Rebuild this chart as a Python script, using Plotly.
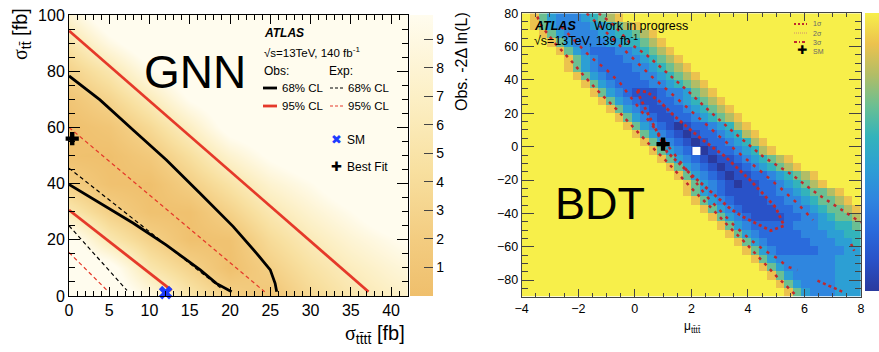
import plotly.graph_objects as go

W, H = 879, 352
def px(x): return x / W
def py(y): return 1 - y / H

FONT = "Liberation Sans, Arial, sans-serif"

# ---------------- GNN panel data ----------------
gnn_x = [0, 5, 10, 15, 20, 25, 30, 35, 40, 45]
gnn_y = [0, 10, 20, 30, 40, 50, 60, 70, 80, 90, 100]
gnn_z = [
    [12, 12, 8.9, 5.2, 2.6, 1.0, 3.5, 5.4, 6.8, 8.0],
    [12, 11, 5.4, 2.8, 0.2, 2.4, 4.7, 6.5, 8.0, 9.3],
    [11, 5.7, 2.7, 0.3, 0.5, 3.8, 6.1, 8.0, 9.5, 11],
    [5.7, 2.5, 0.4, 0.3, 2.7, 5.6, 7.8, 9.7, 12, 12],
    [2.2, 0.4, 0.1, 2.3, 4.9, 7.7, 9.6, 12, 12, 12],
    [0.3, 0.1, 1.5, 4.3, 7.6, 10.2, 12, 12, 12, 12],
    [0.1, 1.0, 3.6, 6.9, 10.9, 12, 12, 12, 12, 12],
    [0.9, 3.0, 6.2, 10, 12, 12, 12, 12, 12, 12],
    [2.7, 5.4, 9.4, 12, 12, 12, 12, 12, 12, 12],
    [5.0, 9.0, 12, 12, 12, 12, 12, 12, 12, 12],
    [7.9, 12, 12, 12, 12, 12, 12, 12, 12, 12],
]
gnn_zmax = 9.85
gnn_cbar_ticks = [1, 2, 3, 4, 5, 6, 7, 8, 9]
gnn_xticks = [0, 5, 10, 15, 20, 25, 30, 35, 40]
gnn_yticks = [0, 20, 40, 60, 80, 100]

# observed 68% CL (black solid), two branches
obs68_in_x = [0, 3.85, 8, 12.1, 16.3, 18.3, 20.2]
obs68_in_y = [39.7, 33, 25.9, 18.1, 9.3, 4.5, 1.5]
obs68_out_x = [0, 3.85, 8, 12.1, 16.3, 20.4, 23.3, 25, 25.6, 25.8]
obs68_out_y = [78.3, 69.8, 59, 48.4, 36.5, 24.7, 15.2, 9.3, 4.5, 1.5]
# observed 95% CL (red solid)
obs95_in_x = [0, 12.75]
obs95_in_y = [30.6, 2.0]
obs95_out_x = [0, 37.2]
obs95_out_y = [94.4, 1.5]
# expected 68% (black dashed), expected 95% (red dashed)
exp68_in_x = [0, 7.2]
exp68_in_y = [25.0, 2.0]
exp68_out_x = [0, 19.0]
exp68_out_y = [45.5, 2.5]
exp95_in_x = [0, 4.9]
exp95_in_y = [15.5, 1.5]
exp95_out_x = [0, 24.3]
exp95_out_y = [60.0, 1.5]

gnn_best = (0.4, 56.0)
gnn_sm = (12.0, 1.2)

# ---------------- BDT panel data ----------------
# rows from top (y = 77.5) to bottom (y = -87.5); (leading yellow cells, levels)
bdt_rows = [
    (1, "86433345678"),
    (1, "8643333445678"),
    (2, "86433334455678"),
    (3, "86433334455678"),
    (4, "86432223345678"),
    (5, "86432223345678"),
    (5, "864322223345678"),
    (6, "864322223345678"),
    (7, "864322223345678"),
    (8, "864321112334678"),
    (9, "864321122345678"),
    (10, "864321122345678"),
    (11, "864321122345678"),
    (12, "864321012234578"),
    (13, "864321012234578"),
    (14, "864321012234578"),
    (15, "864321012234578"),
    (16, "8643210112345678"),
    (17, "8643210112345678"),
    (18, "86432101122345678"),
    (19, "86432101122345678"),
    (19, "8643211112233456678"),
    (20, "8643211112233456678"),
    (21, "8643211112233456678"),
    (22, "864321111223345667"),
    (23, "86432222233344556"),
    (24, "8643222223334455"),
    (25, "864322222333445"),
    (26, "86432222233344"),
    (27, "8643333333444"),
    (28, "864333333444"),
    (29, "86433333444"),
    (30, "8643333444"),
    (31, "864333444"),
]
bdt_ncols = 40
bdt_x0, bdt_dx = -3.85, 0.3
bdt_y0, bdt_dy = 77.5, -5
bdt_colors = ["#2a3a9e", "#2952c8", "#2a6bdc", "#2f86df", "#2c9fd4",
              "#33b3bb", "#6bbf92", "#b2bd66", "#ecc24e", "#f7ef4a"]

bdt_1s_x = [0.08, 0.43, 0.9, 1.37, 1.85, 2.4, 3.16, 4.1, 4.98, 5.28, 4.81, 4.33,
            3.86, 3.39, 2.91, 2.44, 1.97, 1.14, 0.9, 0.67, 0.43, 0.2, 0.08]
bdt_1s_y = [33.8, 32.8, 26.8, 18.8, 11.8, 4.0, -5.4, -20.4, -36.4, -47.4, -50.4, -46.4,
            -42.4, -37.4, -30.4, -23.4, -16.4, -3.2, 4.8, 12.8, 20.8, 28.8, 33.8]
bdt_2s_lo_x = [-2.6, -2.05, -1.58, -0.99, -0.51, -0.16, 0.3, 0.75, 1.2, 1.65, 2.1,
               2.55, 3.0, 3.5, 4.1, 4.57, 5.04, 5.4, 5.75]
bdt_2s_lo_y = [72, 62, 54, 46, 38, 30, 20, 10, 0, -10, -20, -30, -38, -47, -56, -62,
               -67, -72, -74]
bdt_2s_hi_x = [-1.7, -1.22, -0.6, 0.0, 0.6, 1.15, 1.7, 2.35, 3.0, 3.7, 4.4, 5.1, 5.75, 6.3]
bdt_2s_hi_y = [80, 72, 62, 52, 42, 34, 26, 16, 6, -4, -14, -24, -34, -44]
bdt_3s_hi_x = [-1.28, -0.87, -0.51, -0.16, 0.43, 0.9, 1.38, 1.85, 2.6, 3.4, 4.57,
               5.52, 6.46, 7.17, 7.88, 8.0]
bdt_3s_hi_y = [80, 74.8, 68.8, 61.8, 54.8, 47.8, 40.8, 33.8, 22, 10, -6.4, -16.4,
               -28.4, -36.4, -44.4, -45.5]
bdt_3s_lo_x = [-3.45, -3.3, -2.85, -2.3, -1.8, -1.25, -0.65, -0.1, 0.45, 1.05, 1.6,
               2.15, 2.75, 3.3, 3.9, 4.45, 5.0, 5.6, 5.75]
bdt_3s_lo_y = [78, 72.5, 62.5, 52.5, 42.5, 32.5, 22.5, 12.5, 2.5, -7.5, -17.5, -27.5,
               -37.5, -47.5, -57.5, -67.5, -77.5, -87.5, -90]
bdt_3s_segA_x = [7.65, 7.76]
bdt_3s_segA_y = [-58.4, -62.4]
bdt_3s_segB_x = [6.46, 7.4]
bdt_3s_segB_y = [-80.4, -87.4]
bdt_sm = (1.0, 1.5)
bdt_best = (2.18, -2.6)
bdt_xticks = [-4, -2, 0, 2, 4, 6, 8]
bdt_yticks = [-80, -60, -40, -20, 0, 20, 40, 60, 80]

# ---------------- build ----------------
bdt_z = []
for lead, body in bdt_rows:
    s = ("9" * lead + body).ljust(bdt_ncols, "9")[:bdt_ncols]
    bdt_z.append([int(c) for c in s])

fig = go.Figure()

gnn_cs = [[0, "#efbf6c"], [0.2, "#f3cc80"], [0.45, "#f8e0a0"], [0.7, "#fcefc4"], [1, "#fffcee"]]
fig.add_trace(go.Heatmap(
    x=gnn_x, y=gnn_y, z=gnn_z, zsmooth="best", zmin=0, zmax=gnn_zmax,
    colorscale=gnn_cs, xaxis="x", yaxis="y",
    colorbar=dict(x=px(410), xanchor="left", xpad=0, y=py(15), yanchor="top", ypad=0,
                  len=(296 - 15) / H, lenmode="fraction", thickness=23,
                  thicknessmode="pixels", outlinewidth=0, ticks="inside", ticklen=9,
                  tickcolor="#444", tickmode="array", tickvals=gnn_cbar_ticks,
                  tickfont=dict(size=14, color="black", family=FONT)),
))

RED = "#e5392a"
def gline(x, y, color, width, dash=None):
    fig.add_trace(go.Scatter(x=x, y=y, mode="lines", xaxis="x", yaxis="y",
                             line=dict(color=color, width=width, dash=dash),
                             hoverinfo="skip"))

gline(exp95_in_x, exp95_in_y, RED, 1.2, "4px,3px")
gline(exp95_out_x, exp95_out_y, RED, 1.2, "4px,3px")
gline(exp68_in_x, exp68_in_y, "black", 1.2, "4px,3px")
gline(exp68_out_x, exp68_out_y, "black", 1.2, "4px,3px")
gline(obs95_in_x, obs95_in_y, RED, 2.8)
gline(obs95_out_x, obs95_out_y, RED, 2.8)
gline(obs68_in_x, obs68_in_y, "black", 2.8)
gline(obs68_out_x, obs68_out_y, "black", 2.8)

fig.add_trace(go.Scatter(x=[gnn_best[0]], y=[gnn_best[1]], mode="markers", xaxis="x", yaxis="y",
                         marker=dict(symbol="cross", size=11, color="black"), cliponaxis=False))
fig.add_trace(go.Scatter(x=[gnn_sm[0]], y=[gnn_sm[1]], mode="markers", xaxis="x", yaxis="y",
                         marker=dict(symbol="x", size=12, color="#1d3cff"), cliponaxis=False))

bdt_cs = [[i / 9, c] for i, c in enumerate(bdt_colors)]
fig.add_trace(go.Heatmap(
    z=bdt_z, x0=bdt_x0, dx=bdt_dx, y0=bdt_y0, dy=bdt_dy, zmin=0, zmax=9,
    colorscale=bdt_cs, xaxis="x2", yaxis="y2",
    colorbar=dict(x=px(865), xanchor="left", xpad=0, y=py(13), yanchor="top", ypad=0,
                  len=(291 - 13) / H, lenmode="fraction", thickness=22,
                  thicknessmode="pixels", outlinewidth=0, ticks="", showticklabels=False),
))

DRED = "#c0282d"
def bline(x, y, width, dash, color=DRED):
    fig.add_trace(go.Scatter(x=x, y=y, mode="lines", xaxis="x2", yaxis="y2",
                             line=dict(color=color, width=width, dash=dash),
                             hoverinfo="skip"))

bline(bdt_3s_lo_x, bdt_3s_lo_y, 2.5, "3px,5px")
bline(bdt_3s_hi_x, bdt_3s_hi_y, 2.5, "3px,5px")
bline(bdt_3s_segA_x, bdt_3s_segA_y, 2.5, "3px,3px")
bline(bdt_3s_segB_x, bdt_3s_segB_y, 2.5, "3px,3px")
bline(bdt_2s_lo_x, bdt_2s_lo_y, 2.5, "3px,6px")
bline(bdt_2s_hi_x, bdt_2s_hi_y, 2.5, "3px,6px")
bline(bdt_1s_x, bdt_1s_y, 2.8, "3px,3px")

fig.add_trace(go.Scatter(x=[bdt_sm[0]], y=[bdt_sm[1]], mode="markers", xaxis="x2", yaxis="y2",
                         marker=dict(symbol="cross", size=11, color="black"), cliponaxis=False))
fig.add_trace(go.Scatter(x=[bdt_best[0]], y=[bdt_best[1]], mode="markers", xaxis="x2", yaxis="y2",
                         marker=dict(symbol="square", size=8, color="white", line=dict(width=0))))

def axis(domain, rng, tickvals, minor_dtick, ticklen, mlen, size, anchor, lc="black"):
    return dict(domain=domain, range=rng, tickmode="array", tickvals=tickvals,
                ticks="inside", ticklen=ticklen, tickwidth=1, tickcolor=lc,
                minor=dict(dtick=minor_dtick, tick0=0, ticks="inside", ticklen=mlen,
                           tickcolor=lc, tickwidth=1),
                mirror="allticks", showline=True, linecolor=lc, linewidth=1,
                showgrid=False, zeroline=False, anchor=anchor,
                tickfont=dict(size=size, color="black", family=FONT))

annotations = []
def txt(x, y, text, size, xanchor="left", color="black", family=FONT, angle=0, yanchor="middle"):
    annotations.append(dict(x=px(x), y=py(y), xref="paper", yref="paper", text=text,
                            showarrow=False, xanchor=xanchor, yanchor=yanchor,
                            textangle=angle, font=dict(size=size, color=color, family=family)))

# GNN panel texts
txt(195, 72, "GNN", 46, "center")
txt(262, 33, "<b><i>ATLAS</i></b>", 12)
txt(262, 52, "√s=13TeV, 140 fb<sup>-1</sup>", 11.5)
txt(262, 71, "Obs:", 12)
txt(327, 71, "Exp:", 12)
txt(280, 88, "68% CL", 11.5)
txt(280, 106, "95% CL", 11.5)
txt(346, 88, "68% CL", 11.5)
txt(346, 106, "95% CL", 11.5)
txt(336, 139, "✖", 13, "center", color="#1d3cff", family="DejaVu Sans")
txt(345, 140, "SM", 12)
txt(336, 166, "✚", 13, "center", family="DejaVu Sans")
txt(345, 167, "Best Fit", 12)
txt(22, 34, "<span style='font-family:Liberation Serif'>σ</span><sub>tt̄</sub> [fb]", 20,
    "center", angle=-90)
txt(407, 334, "<span style='font-family:Liberation Serif'>σ</span><sub>tt̄tt̄</sub> [fb]", 20,
    "right")
txt(461, 62, "Obs. -2Δ ln(L)", 16, "center", angle=-90)

# BDT panel texts
txt(532, 26, "<b><i>ATLAS</i></b>", 12.5)
txt(592, 26, "Work in progress", 12.5)
txt(532, 40, "√s=13TeV, 139 fb<sup>-1</sup>", 12.5)
txt(600, 203, "BDT", 45, "center")
txt(692, 327, "μ<sub>tt̄tt̄</sub>", 12, "center")
txt(811, 24, "1σ", 7, color="#666")
txt(811, 33, "2σ", 7, color="#666")
txt(811, 42, "3σ", 7, color="#666")
txt(811, 51, "SM", 7, color="#666")
txt(802, 50.5, "✚", 12, "center", family="DejaVu Sans")

shapes = []
def seg(x0, x1, y, color, width, dash="solid"):
    shapes.append(dict(type="line", xref="paper", yref="paper", x0=px(x0), x1=px(x1),
                       y0=py(y), y1=py(y), line=dict(color=color, width=width, dash=dash)))

seg(263, 277, 88, "black", 2.8)
seg(263, 277, 106, RED, 2.8)
seg(330, 343, 88, "black", 1.2, "3px,2px")
seg(330, 343, 106, RED, 1.2, "3px,2px")
seg(794, 807, 24, DRED, 2.2, "2px,2px")
seg(794, 807, 33, "#d08a70", 1, "1px,1px")
seg(794, 807, 42, DRED, 2, "3px,2px,1px,2px")

fig.update_layout(
    width=W, height=H, margin=dict(l=0, r=0, t=0, b=0, autoexpand=False),
    paper_bgcolor="white", plot_bgcolor="white", showlegend=False,
    font=dict(family=FONT, color="black"),
    xaxis=axis([px(69), px(407.7)], [0, 42.07], gnn_xticks, 1, 9, 5, 16, "y"),
    yaxis=axis([py(296), py(15)], [0, 100], gnn_yticks, 5, 11, 6, 16, "x"),
    xaxis2=axis([px(521.7), px(861)], [-4, 8], bdt_xticks, 0.5, 8, 4, 12.5, "y2", "#444"),
    yaxis2=axis([py(296.7), py(13.3)], [-90, 80], bdt_yticks, 5, 12, 6, 12.5, "x2", "#444"),
    annotations=annotations, shapes=shapes,
)

fig.write_html("out.html")
